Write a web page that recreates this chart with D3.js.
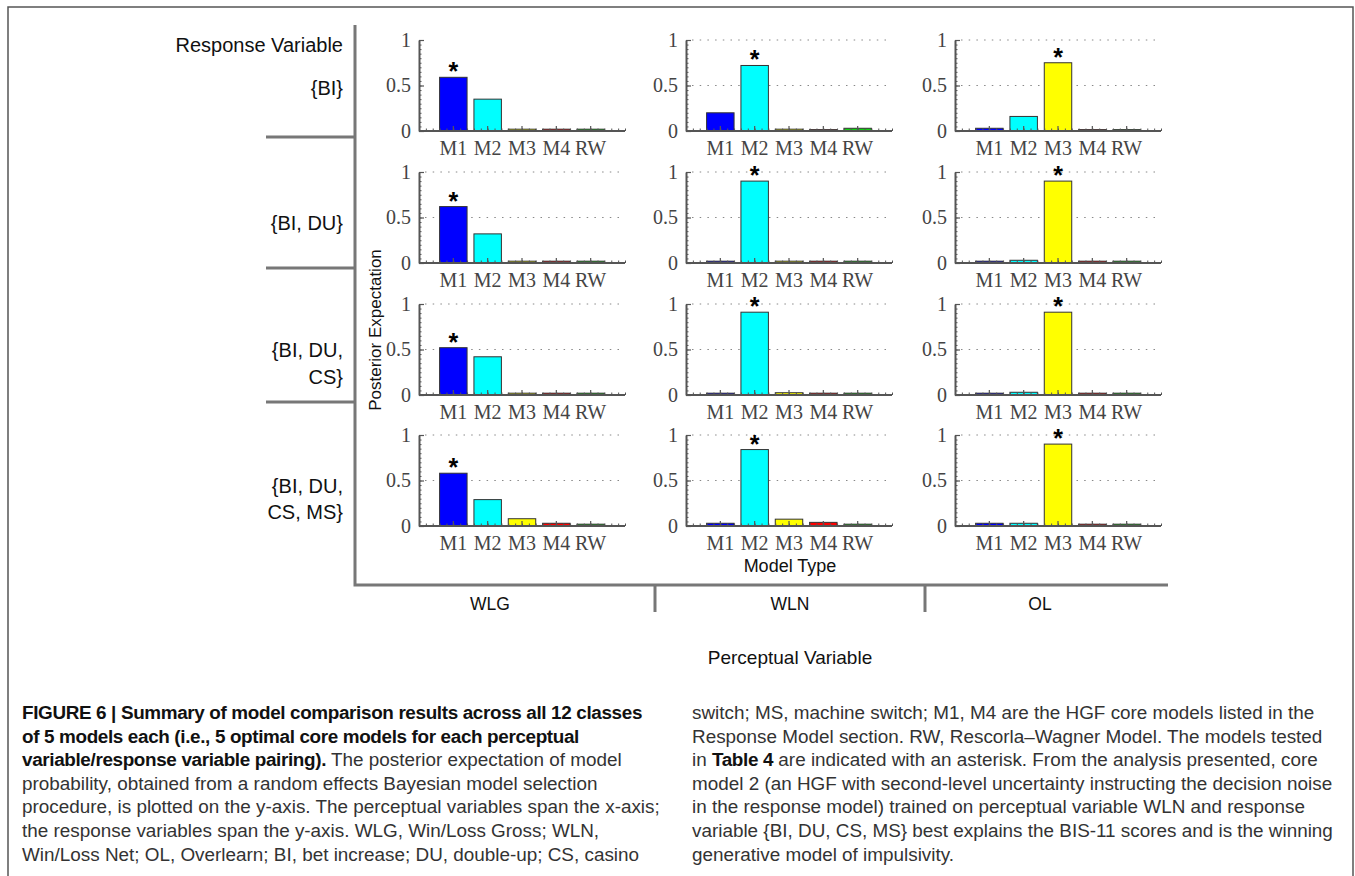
<!DOCTYPE html>
<html>
<head>
<meta charset="utf-8">
<script src="https://cdn.jsdelivr.net/npm/d3@7"></script>
<style>
  body { margin: 0; background: #fff; }
  svg { display: block; }
</style>
</head>
<body>
<svg id="fig" width="1355" height="876"></svg>
<script>
// model types on the x axis of each small panel
const models = ["M1", "M2", "M3", "M4", "RW"];
const modelColors = ["#0000ff", "#00ffff", "#ffff00", "#ff0000", "#10d010"];

// perceptual variables (columns) and response variables (rows)
const perceptual = ["WLG", "WLN", "OL"];
const responses = [["{BI}"], ["{BI, DU}"], ["{BI, DU,", "CS}"], ["{BI, DU,", "CS, MS}"]];

// posterior expectation, one row per response variable, values for M1..RW
const wlg = [
  [0.59, 0.35, 0.02, 0.02, 0.02],
  [0.62, 0.32, 0.02, 0.02, 0.02],
  [0.52, 0.42, 0.02, 0.02, 0.02],
  [0.58, 0.29, 0.08, 0.03, 0.02]
];
const wln = [
  [0.20, 0.72, 0.02, 0.015, 0.03],
  [0.02, 0.90, 0.02, 0.02, 0.02],
  [0.02, 0.91, 0.025, 0.02, 0.02],
  [0.03, 0.84, 0.075, 0.04, 0.02]
];
const ol = [
  [0.03, 0.16, 0.75, 0.015, 0.015],
  [0.02, 0.03, 0.90, 0.02, 0.02],
  [0.02, 0.03, 0.91, 0.02, 0.02],
  [0.03, 0.03, 0.90, 0.02, 0.02]
];
const yTicks = [0, 0.5, 1];

const caption = {
  left: [
    [["FIGURE 6 | Summary of model comparison results across all 12 classes", true]],
    [["of 5 models each (i.e., 5 optimal core models for each perceptual", true]],
    [["variable/response variable pairing).", true], [" The posterior expectation of model", false]],
    [["probability, obtained from a random effects Bayesian model selection", false]],
    [["procedure, is plotted on the y-axis. The perceptual variables span the x-axis;", false]],
    [["the response variables span the y-axis. WLG, Win/Loss Gross; WLN,", false]],
    [["Win/Loss Net; OL, Overlearn; BI, bet increase; DU, double-up; CS, casino", false]]
  ],
  right: [
    [["switch; MS, machine switch; M1, M4 are the HGF core models listed in the", false]],
    [["Response Model section. RW, Rescorla\u2013Wagner Model. The models tested", false]],
    [["in ", false], ["Table 4", true], [" are indicated with an asterisk. From the analysis presented, core", false]],
    [["model 2 (an HGF with second-level uncertainty instructing the decision noise", false]],
    [["in the response model) trained on perceptual variable WLN and response", false]],
    [["variable {BI, DU, CS, MS} best explains the BIS-11 scores and is the winning", false]],
    [["generative model of impulsivity.", false]]
  ]
};

const allData = [wlg, wln, ol];

const svg = d3.select("#fig");
const sans = "'Liberation Sans', Arial, Helvetica, sans-serif";
const serif = "'Liberation Serif', 'Times New Roman', serif";
const frameColor = "#777";

// outer figure border
svg.append("rect")
  .attr("x", 8).attr("y", 7).attr("width", 1345).attr("height", 900)
  .attr("fill", "none").attr("stroke", "#555").attr("stroke-width", 1.5);

// panel grid
const colX = [419, 686, 955];
const rowTop = [40, 172, 304, 435];
const pw = 206, ph = 91;

const xLin = d3.scaleLinear().domain([0, 6]).range([0, pw]);
const xBand = d3.scaleBand().domain(models)
  .range([xLin(0.5), xLin(5.5)]).paddingInner(0.2).paddingOuter(0.1);
const y = d3.scaleLinear().domain([0, 1]).range([ph, 0]);

allData.forEach((colData, ci) => {
  colData.forEach((vals, ri) => {
    const g = svg.append("g")
      .attr("transform", "translate(" + colX[ci] + "," + rowTop[ri] + ")");

    // dotted grid (the first panel has none)
    if (!(ci == 0 && ri == 0)) {
      g.selectAll(".grid")
        .data([0.5, 1])
        .enter().append("line")
        .attr("x1", 6).attr("x2", pw)
        .attr("y1", d => y(d)).attr("y2", d => y(d))
        .attr("stroke", "#888").attr("stroke-width", 1)
        .attr("stroke-dasharray", "1.5,6.2");
    }

    const winner = d3.maxIndex(vals);

    g.selectAll("rect.bar")
      .data(vals)
      .enter().append("rect")
      .attr("class", "bar")
      .attr("x", (d, i) => xBand(models[i]))
      .attr("width", xBand.bandwidth())
      .attr("y", d => y(d))
      .attr("height", d => y(0) - y(d))
      .attr("fill", (d, i) => modelColors[i])
      .attr("stroke", "#333").attr("stroke-width", 1);

    g.append("text")
      .attr("x", xBand(models[winner]) + xBand.bandwidth() / 2)
      .attr("y", y(vals[winner]) + 3)
      .attr("text-anchor", "middle")
      .attr("font-family", sans).attr("font-size", 25).attr("font-weight", "bold")
      .attr("fill", "#000")
      .text("*");

    // minor ticks
    g.append("g")
      .call(d3.axisLeft(y).tickValues(d3.range(0, 1.001, 0.05)).tickSize(-2.5).tickFormat(""))
      .call(a => a.select(".domain").remove())
      .selectAll("line").attr("stroke", "#555");
    g.append("g")
      .attr("transform", "translate(0," + ph + ")")
      .call(d3.axisBottom(xLin).tickValues(d3.range(0, 6.001, 0.2)).tickSize(-2.5).tickFormat(""))
      .call(a => a.select(".domain").remove())
      .selectAll("line").attr("stroke", "#555");

    // main axes
    const ya = g.append("g")
      .call(d3.axisLeft(y).tickValues(yTicks).tickSize(-5).tickSizeOuter(0).tickPadding(8)
        .tickFormat(d => d));
    const xa = g.append("g")
      .attr("transform", "translate(0," + ph + ")")
      .call(d3.axisBottom(xBand).tickSize(-5).tickSizeOuter(0).tickPadding(10));
    [ya, xa].forEach(a => {
      a.select(".domain").attr("stroke", "#555").attr("stroke-width", 2);
      a.selectAll(".tick line").attr("stroke", "#555").attr("stroke-width", 1.2);
      a.selectAll("text").attr("font-family", serif).attr("font-size", 20).attr("fill", "#444");
    });
    xa.select(".domain").attr("d", "M0,0H" + pw);
  });
});

// frame lines
const frame = svg.append("g").attr("stroke", frameColor).attr("stroke-width", 3).attr("fill", "none");
frame.append("path").attr("d", "M355,25V585H1168");
[137, 268, 402].forEach(yy => {
  frame.append("line").attr("x1", 266).attr("x2", 355).attr("y1", yy).attr("y2", yy);
});
[655, 925].forEach(xx => {
  frame.append("line").attr("x1", xx).attr("x2", xx).attr("y1", 585).attr("y2", 612);
});

// labels
function label(txt, x, yy, anchor, size) {
  return svg.append("text").attr("x", x).attr("y", yy)
    .attr("text-anchor", anchor).attr("font-family", sans)
    .attr("font-size", size || 17).attr("fill", "#111").text(txt);
}
label("Response Variable", 343, 52, "end", 20);
const rowLabelY = [[95], [230], [357, 384], [493, 519]];
responses.forEach((lines, ri) => {
  lines.forEach((t, li) => label(t, 343, rowLabelY[ri][li], "end", 20));
});
perceptual.forEach((p, ci) => label(p, [490, 790, 1040][ci], 610, "middle", 17.5));
label("Model Type", 790, 572, "middle", 18);
label("Perceptual Variable", 790, 664, "middle", 19);
svg.append("text")
  .attr("transform", "translate(381,330) rotate(-90)")
  .attr("text-anchor", "middle").attr("font-family", sans)
  .attr("font-size", 17).attr("fill", "#111")
  .text("Posterior Expectation");

// caption, two columns
const capFont = "'Liberation Sans Narrow', 'Arial Narrow', 'Liberation Sans', sans-serif";
const lineY = d3.range(7).map(i => 719 + i * 23.6);
function captionColumn(lines, x0) {
  return lines.map((parts, i) => {
    const t = svg.append("text")
      .attr("transform", "translate(" + x0 + "," + lineY[i] + ")")
      .attr("font-family", capFont).attr("font-size", 18.5).attr("fill", "#333");
    parts.forEach(p => {
      t.append("tspan").attr("font-weight", p[1] ? "bold" : "normal")
        .attr("letter-spacing", p[1] ? -0.35 : 0)
        .attr("fill", p[1] ? "#111" : "#333").text(p[0]);
    });
    return t;
  });
}
const leftLines = captionColumn(caption.left, 22);
const rightLines = captionColumn(caption.right, 692);
// fit the condensed typeface: line 5 of the left column spans x 22..660
const k = 638 / leftLines[4].node().getComputedTextLength();
leftLines.concat(rightLines).forEach((t, i) => {
  const x0 = i < 7 ? 22 : 692;
  t.attr("transform", "translate(" + x0 + "," + lineY[i % 7] + ") scale(" + k + ",1)");
});
</script>
</body>
</html>
